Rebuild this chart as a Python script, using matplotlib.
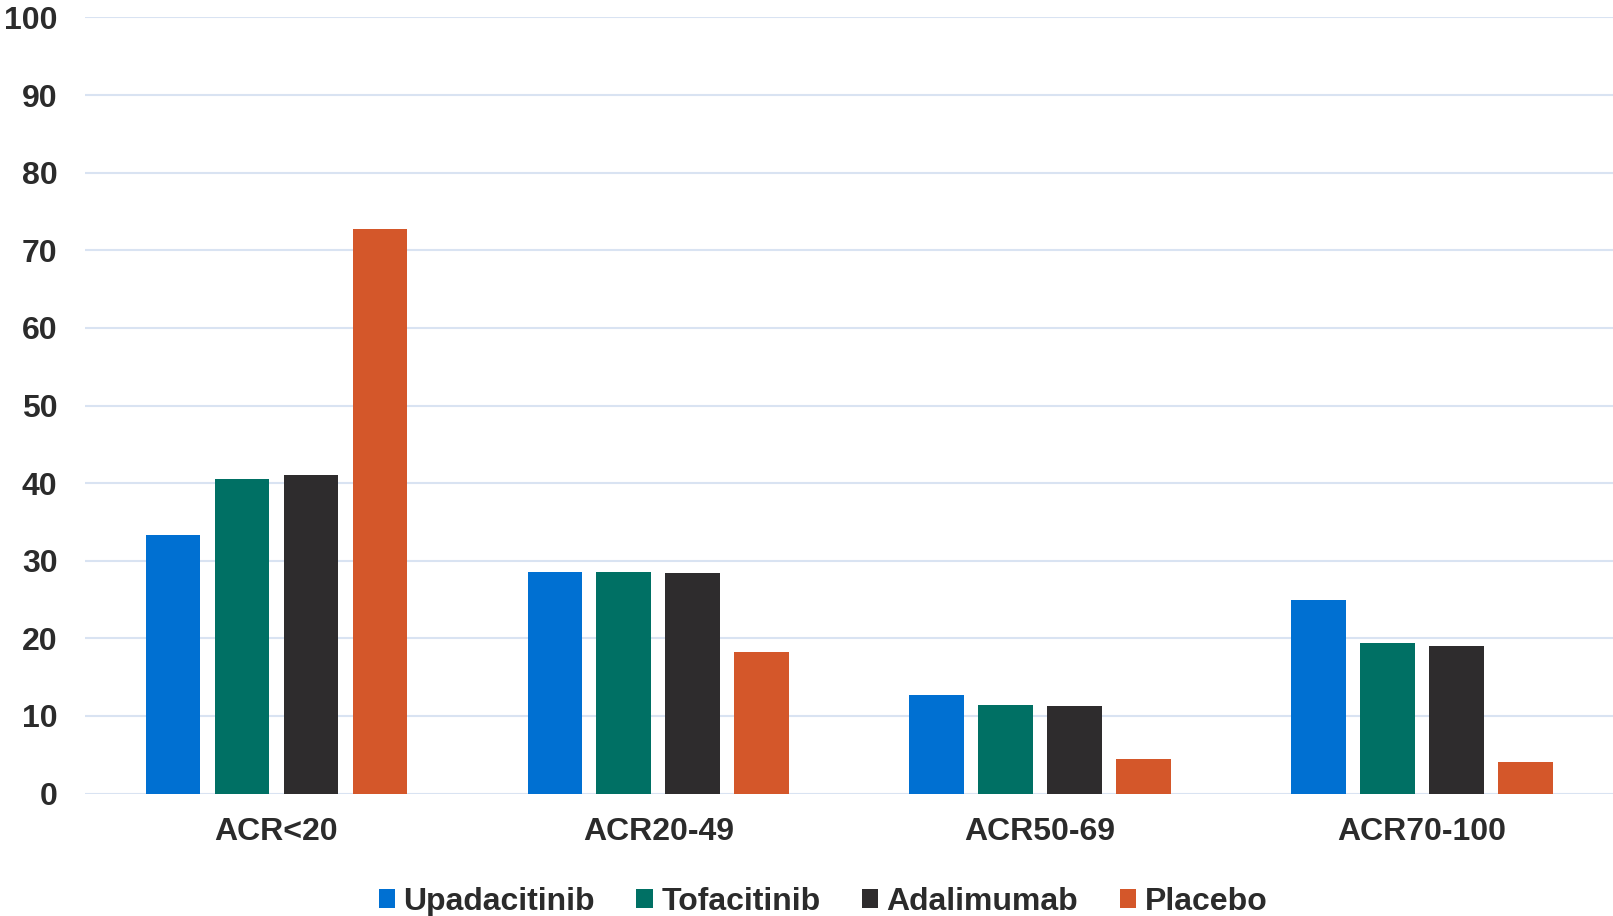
import matplotlib
matplotlib.use("Agg")
import matplotlib.pyplot as plt
import numpy as np
from matplotlib.patches import Patch

categories = ["ACR<20", "ACR20-49", "ACR50-69", "ACR70-100"]
series_names = ["Upadacitinib", "Tofacitinib", "Adalimumab", "Placebo"]
upadacitinib = [33.3, 28.6, 12.7, 24.9]
tofacitinib = [40.5, 28.5, 11.4, 19.4]
adalimumab = [41.0, 28.4, 11.3, 19.0]
placebo = [72.8, 18.2, 4.4, 4.1]
yticks = [0, 10, 20, 30, 40, 50, 60, 70, 80, 90, 100]

colors = ["#0070D2", "#007064", "#2E2C2D", "#D4572A"]
text_color = "#2B2B2B"

plt.rcParams['font.family'] = ['Liberation Sans', 'DejaVu Sans']

fig = plt.figure(figsize=(16.13, 9.16), dpi=100)
W, H = 1568.0, 890.0
ax = fig.add_axes([83/W, 1-771/H, (1568-83)/W, (771-17)/H])

values = [upadacitinib, tofacitinib, adalimumab, placebo]
x = np.arange(len(categories))
bw = 53/371
step = 67/371
offsets = (np.arange(4) - 1.5) * step
for i, (vals, c) in enumerate(zip(values, colors)):
    ax.bar(x + offsets[i], vals, width=bw, color=c, zorder=3, label=series_names[i])

ax.set_xlim(-0.5, 3.5)
ax.set_ylim(0, 100)
ax.set_yticks(yticks)
ax.set_yticklabels([str(t) for t in yticks], fontsize=23, fontweight='bold', color=text_color)
ax.set_xticks(x)
ax.set_xticklabels(categories, fontsize=23, fontweight='bold', color=text_color)
ax.tick_params(axis='y', length=0, pad=20)
ax.tick_params(axis='x', length=0, pad=17)
ax.grid(axis='y', color='#D9E3F2', linewidth=1.5, zorder=0)
for s in ax.spines.values():
    s.set_visible(False)

handles = [Patch(facecolor=c, edgecolor='none') for c in colors]
leg = fig.legend(handles, series_names, loc='center', bbox_to_anchor=(800/W, 1-876/H),
                 ncol=4, frameon=False, fontsize=23, handlelength=0.52, handleheight=0.52,
                 handletextpad=0.26, columnspacing=1.29, borderpad=0, borderaxespad=0)
for t in leg.get_texts():
    t.set_fontweight('bold')
    t.set_color(text_color)

fig.savefig("out.png", dpi=100)
